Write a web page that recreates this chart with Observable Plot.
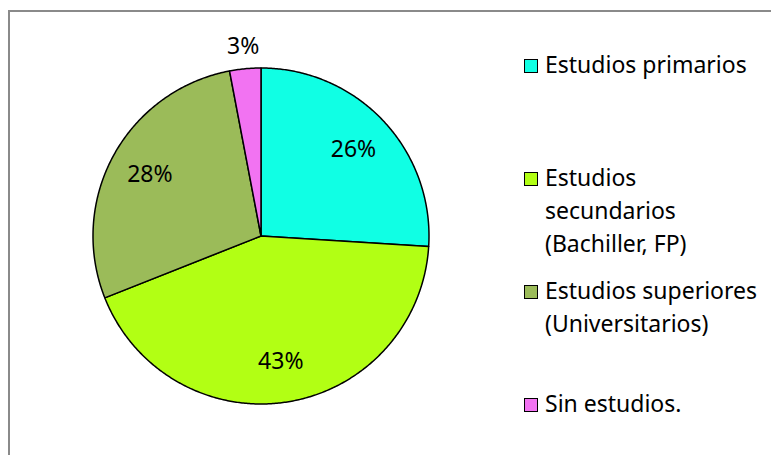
<!DOCTYPE html>
<html>
<head>
<meta charset="utf-8">
<script src="https://cdn.jsdelivr.net/npm/d3@7"></script>
<script src="https://cdn.jsdelivr.net/npm/@observablehq/plot@0.6"></script>
<style>
  html, body { margin: 0; padding: 0; background: #fff; }
  #wrap { position: relative; width: 771px; height: 455px; overflow: hidden; font-family: "Noto Sans", sans-serif; }
  #border { position: absolute; left: 8px; top: 10px; width: 900px; height: 600px; border-left: 2px solid #8a8a8a; border-top: 2px solid #8a8a8a; }
  #chart { position: absolute; left: 0; top: 0; }
  #legend { position: absolute; left: 524px; top: 48px; display: grid; grid-template-rows: repeat(4, 113px); }
  .item { display: flex; align-items: flex-start; font-size: 23px; line-height: 33px; color: #000; }
  .sw { width: 12px; height: 12px; border: 1.5px solid #000; margin-top: 11px; margin-right: 7px; flex: none; }
</style>
</head>
<body>
<div id="wrap">
  <div id="border"></div>
  <div id="chart"></div>
  <div id="legend"></div>
</div>
<script>
// Data
const categories = ["Estudios primarios", "Estudios secundarios (Bachiller, FP)", "Estudios superiores (Universitarios)", "Sin estudios."];
const legendLines = [["Estudios primarios"], ["Estudios", "secundarios", "(Bachiller, FP)"], ["Estudios superiores", "(Universitarios)"], ["Sin estudios."]];
const values = [26, 43, 28, 3];
const labels = ["26%", "43%", "28%", "3%"];
const colors = ["#10FFE4", "#B2FF14", "#9BBB59", "#F273F2"];

// Build slice geometry in unit space (angle 0 at top, clockwise)
const arcs = d3.pie().sort(null).value(d => d)(values);
const slices = arcs.map((a, i) => {
  const pts = [[0, 0]];
  const n = Math.max(4, Math.ceil((a.endAngle - a.startAngle) / (Math.PI / 360)));
  for (let k = 0; k <= n; k++) {
    const t = a.startAngle + (a.endAngle - a.startAngle) * k / n;
    pts.push([Math.sin(t), -Math.cos(t)]);
  }
  pts.push([0, 0]);
  return {type: "Feature", properties: {cat: categories[i], color: colors[i]}, geometry: {type: "Polygon", coordinates: [pts]}};
});
const labelData = arcs.map((a, i) => {
  const m = (a.startAngle + a.endAngle) / 2;
  const r = values[i] < 5 ? 1.13 : 0.755;
  return {label: labels[i], x: Math.sin(m) * r, y: -Math.cos(m) * r};
});

const R = 168, cx = 260.5, cy = 235.5, W = 771, H = 455;
const chart = Plot.plot({
  width: W,
  height: H,
  marginLeft: cx - R,
  marginTop: cy - R,
  marginRight: W - cx - R,
  marginBottom: H - cy - R,
  projection: {type: "identity", domain: {type: "MultiPoint", coordinates: [[-1, -1], [1, 1]]}, clip: false},
  style: {background: "transparent", overflow: "visible"},
  marks: [
    Plot.geo(slices, {fill: d => d.properties.color, stroke: "#000", strokeWidth: 1.5, strokeLinejoin: "round"}),
    Plot.text(labelData, {x: "x", y: "y", text: "label", fontSize: 23, fontFamily: "Noto Sans", fill: "#000", textAnchor: "middle"})
  ]
});
document.getElementById("chart").appendChild(chart);

// Legend
const legend = document.getElementById("legend");
legendLines.forEach((lines, i) => {
  const item = document.createElement("div");
  item.className = "item";
  const sw = document.createElement("div");
  sw.className = "sw";
  sw.style.background = colors[i];
  const txt = document.createElement("div");
  txt.innerHTML = lines.join("<br>");
  item.appendChild(sw);
  item.appendChild(txt);
  legend.appendChild(item);
});
</script>
</body>
</html>
